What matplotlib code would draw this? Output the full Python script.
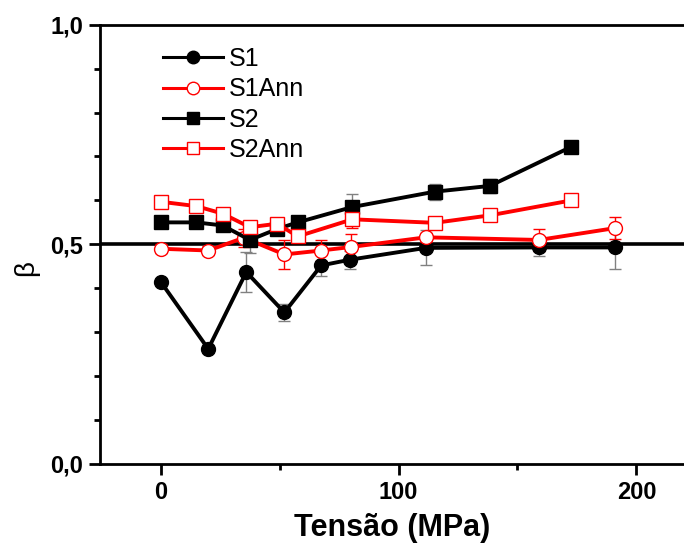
import matplotlib.pyplot as plt
from matplotlib.ticker import FixedLocator

plt.rcParams['font.family'] = ['Liberation Sans', 'DejaVu Sans']

# S1 / S1Ann
x_s1 = [0, 20, 36, 52, 67.5, 79.5, 111.5, 159, 191]
y_s1 = [0.415, 0.262, 0.437, 0.345, 0.452, 0.465, 0.492, 0.493, 0.493]
e_s1 = [0, 0, 0.045, 0.02, 0.025, 0.02, 0.04, 0.02, 0.05]

x_s1a = [0, 20, 35, 52, 67.5, 80, 111.5, 159, 191]
y_s1a = [0.49, 0.486, 0.515, 0.477, 0.486, 0.494, 0.516, 0.51, 0.537]
e_s1a = [0.01, 0.01, 0.02, 0.032, 0.025, 0.03, 0.01, 0.025, 0.025]

# S2 / S2Ann
x_s2 = [0, 15, 26, 37.5, 49, 57.6, 80.6, 115.3, 138.4, 172.6]
y_s2 = [0.55, 0.55, 0.543, 0.51, 0.535, 0.55, 0.585, 0.62, 0.633, 0.722]
e_s2 = [0, 0, 0.01, 0.03, 0.01, 0, 0.03, 0.018, 0.015, 0]

y_s2a = [0.597, 0.587, 0.57, 0.539, 0.547, 0.518, 0.557, 0.549, 0.566, 0.6]
e_s2a = [0.01, 0, 0.01, 0.01, 0.01, 0, 0.02, 0, 0, 0]

x_ticks = [0, 100, 200]
x_labels = ['0', '100', '200']
y_ticks = [0.0, 0.5, 1.0]
y_labels = ['0,0', '0,5', '1,0']

fig = plt.figure(figsize=(6.84, 5.54), dpi=100)
ax = fig.add_axes([100 / 684, (554 - 464) / 554, 1 - 100 / 684, (464 - 24.7) / 554])

ax.axhline(0.5, color='black', lw=2.6, zorder=1)

series = [
    (x_s1, y_s1, e_s1, 'black', 'o', 'black', 'gray', 'S1'),
    (x_s1a, y_s1a, e_s1a, 'red', 'o', 'white', 'red', 'S1Ann'),
    (x_s2, y_s2, e_s2, 'black', 's', 'black', 'gray', 'S2'),
    (x_s2, y_s2a, e_s2a, 'red', 's', 'white', 'red', 'S2Ann'),
]
handles = []
for x, y, e, c, m, fc, ec, lab in series:
    ax.errorbar(x, y, yerr=e, fmt='none', ecolor=ec, elinewidth=1, capsize=4, capthick=1, zorder=2)
    h, = ax.plot(x, y, color=c, lw=2.8, marker=m, markersize=10, markerfacecolor=fc,
                 markeredgecolor=c, markeredgewidth=1, zorder=3, label=lab)
    handles.append(h)

leg = ax.legend(handles=handles, loc='upper left', bbox_to_anchor=(0.07, 1.0), frameon=False,
                fontsize=18, handlelength=2.4, handletextpad=0.2, labelspacing=0.25, markerscale=0.9)
for lh in leg.get_lines():
    lh.set_linewidth(2.2)

ax.set_xlim(-25.5, 220)
ax.set_ylim(0, 1.0)
ax.xaxis.set_major_locator(FixedLocator(x_ticks))
ax.xaxis.set_minor_locator(FixedLocator([50, 150]))
ax.yaxis.set_major_locator(FixedLocator(y_ticks))
ax.yaxis.set_minor_locator(FixedLocator([0.1, 0.2, 0.3, 0.4, 0.6, 0.7, 0.8, 0.9]))
ax.set_xticklabels(x_labels)
ax.set_yticklabels(y_labels)
for lbl in ax.get_xticklabels() + ax.get_yticklabels():
    lbl.set_fontweight('bold')
    lbl.set_fontsize(17)

ax.tick_params(which='major', direction='out', length=8, width=2, pad=4)
ax.tick_params(which='minor', direction='out', length=4, width=2)
ax.spines['right'].set_visible(False)
for s in ['left', 'bottom', 'top']:
    ax.spines[s].set_linewidth(2)

ax.set_xlabel('Tensão (MPa)', fontsize=22, fontweight='bold', labelpad=7)
ax.set_ylabel('β', fontsize=20)
ax.yaxis.set_label_coords(-0.104, 0.446)

fig.savefig('out.png', dpi=100)
